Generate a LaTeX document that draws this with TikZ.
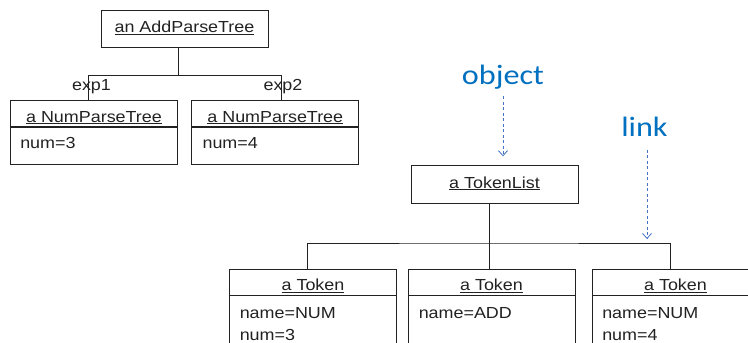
\documentclass[tikz,border=0pt]{standalone}
\usepackage{fontspec}
\setmainfont{Liberation Sans}[FakeStretch=1.12]
\newfontfamily\annfont{Carlito}[FakeStretch=1.15]
\usetikzlibrary{arrows.meta}
\definecolor{ink}{HTML}{222222}
\definecolor{annblue}{HTML}{0070C0}
\definecolor{arrblue}{HTML}{4472C4}
\newcommand{\objname}[1]{\setbox0\hbox{#1}\rlap{\rule[-1.6pt]{\wd0}{0.55pt}}\box0}
\tikzset{
  txt/.style={font=\fontsize{16}{20}\selectfont, text=ink},
  box/.style={draw=ink, line width=0.9pt, inner sep=0pt, txt, minimum width=167pt},
  single/.style={box, minimum height=37.5pt, text height=12pt, text depth=4.5pt},
  head/.style={box, minimum height=26pt, text height=17pt, text depth=0pt},
  body/.style={box, anchor=north},
  attr/.style={txt, inner sep=0pt, anchor=base west},
  lbl/.style={txt, inner sep=0pt, anchor=base},
  conn/.style={draw=ink, line width=0.9pt},
  ann/.style={inner sep=0pt, anchor=base, font=\annfont\fontsize{28}{32}\selectfont, text=annblue},
  pointer/.style={draw=arrblue, line width=0.8pt, dash pattern=on 3pt off 2.5pt,
    -{Straight Barb[length=5pt,width=9pt]}}
}
\begin{document}
\begin{tikzpicture}[x=1pt,y=-1pt]
\useasboundingbox (0,0) rectangle (748,343);
\clip (0,0) rectangle (748,343);
\fill[white] (0,0) rectangle (748,343);

% parse tree
\node[single] (apt) at (184.5,29) {\objname{an AddParseTree}};
\node[head] (n1h) at (94,113.7) {\objname{a NumParseTree}};
\node[body, minimum height=36.6pt] (n1b) at (n1h.south) {};
\node[attr] (n1a) at ([xshift=10pt,yshift=-21pt]n1b.north west) {num=3};
\node[head] (n2h) at (275.3,113.7) {\objname{a NumParseTree}};
\node[body, minimum height=36.6pt] (n2b) at (n2h.south) {};
\node[attr] (n2a) at ([xshift=11pt,yshift=-21pt]n2b.north west) {num=4};

\draw[conn] ([xshift=-6pt]apt.south) -- ++(0,27) coordinate (j1);
\draw[conn] ([xshift=-6pt]n1h.north) |- (j1) -| ([xshift=6.5pt]n2h.north);
\node[lbl] (e1) at (91.5,90.5) {exp1};
\node[lbl] (e2) at (283,90.5) {exp2};

% token list
\node[single] (tl) at (494.5,184.5) {\objname{a TokenList}};
\node[head] (t1h) at (313,282) {\objname{a Token}};
\node[body, minimum height=65pt] (t1b) at (t1h.south) {};
\node[attr] (t1a) at ([xshift=10.5pt,yshift=-23pt]t1b.north west) {name=NUM};
\node[attr] (t1c) at ([xshift=10.5pt,yshift=-45pt]t1b.north west) {num=3};
\node[head] (t2h) at (491.5,282) {\objname{a Token}};
\node[body, minimum height=65pt] (t2b) at (t2h.south) {};
\node[attr] (t2a) at ([xshift=11pt,yshift=-23pt]t2b.north west) {name=ADD};
\node[head] (t3h) at (675.5,282) {\objname{a Token}};
\node[body, minimum height=65pt] (t3b) at (t3h.south) {};
\node[attr] (t3a) at ([xshift=10.5pt,yshift=-23pt]t3b.north west) {name=NUM};
\node[attr] (t3c) at ([xshift=10.5pt,yshift=-45pt]t3b.north west) {num=4};

\coordinate (bus) at (489,243);
\draw[conn] ([xshift=-5.5pt]tl.south) -- ([xshift=-2.5pt]t2h.north);
\draw[conn] ([xshift=-6pt]t1h.north) |- (bus) -| ([xshift=-5.5pt]t3h.north);

% annotations
\node[ann] (obj) at (503,84.3) {object};
\node[ann] (lnk) at (644.5,136.7) {link};
\draw[pointer] ([yshift=-7pt]obj.south) -- ([yshift=9pt]obj.south |- tl.north);
\draw[pointer] ([xshift=2.5pt,yshift=-13pt]lnk.south) -- ([xshift=2.5pt,yshift=4pt]lnk.south |- bus);
\end{tikzpicture}
\end{document}
